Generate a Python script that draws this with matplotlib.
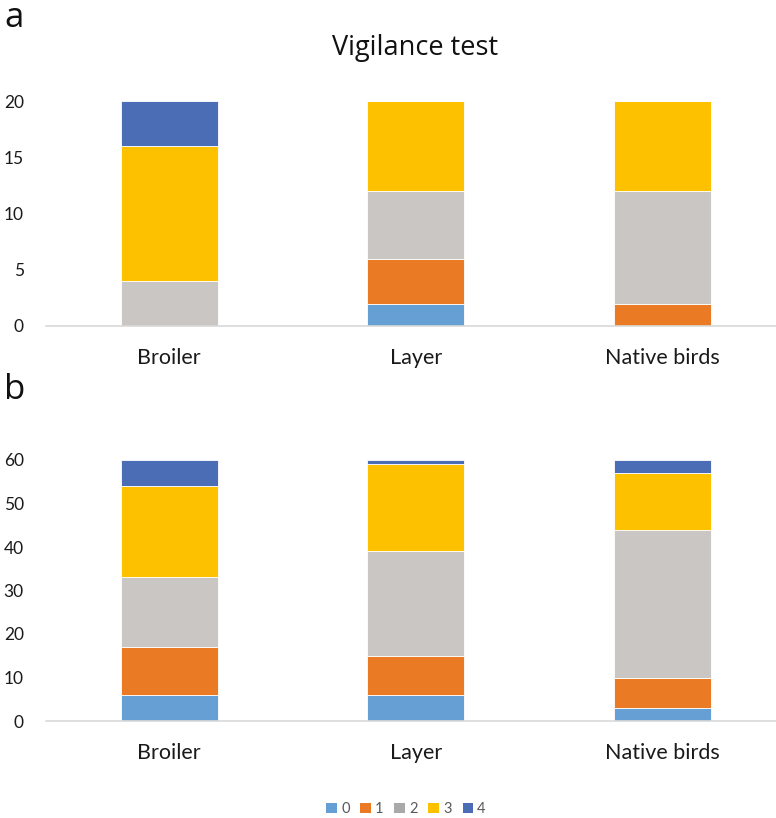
import matplotlib
matplotlib.use("Agg")
import matplotlib.pyplot as plt
from matplotlib.patches import Patch
import numpy as np

categories = ["Broiler", "Layer", "Native birds"]
series_names = ["0", "1", "2", "3", "4"]

# Panel a (Vigilance test) – counts per score
a_s0 = [0, 2, 0]
a_s1 = [0, 4, 2]
a_s2 = [4, 6, 10]
a_s3 = [12, 8, 8]
a_s4 = [4, 0, 0]

# Panel b
b_s0 = [6, 6, 3]
b_s1 = [11, 9, 7]
b_s2 = [16, 24, 34]
b_s3 = [21, 20, 13]
b_s4 = [6, 1, 3]

a_ticks = [0, 5, 10, 15, 20]
b_ticks = [0, 10, 20, 30, 40, 50, 60]

colors = ["#659FD4", "#EA7A23", "#C9C6C3", "#FEC100", "#4A6DB5"]
legend_colors = ["#659FD4", "#EA7A23", "#A9A9A9", "#FEC100", "#4A6DB5"]

W, H = 776, 818
fig = plt.figure(figsize=(W / 100, H / 100), dpi=100)

def px_axes(left, right, top, bottom):
    return fig.add_axes([left / W, 1 - bottom / H, (right - left) / W, (bottom - top) / H])

ax_a = px_axes(46, 776, 101, 326)
ax_b = px_axes(46, 776, 460, 721)

tick_font = "Lato"

def draw(ax, series, ticks):
    x = np.arange(len(categories))
    bottom = np.zeros(len(categories))
    for vals, c in zip(series, colors):
        vals = np.array(vals, dtype=float)
        ax.bar(x, vals, 0.395, bottom=bottom, color=c, edgecolor="white", linewidth=0.6)
        bottom += vals
    ax.set_xlim(-0.5, -0.5 + 730 / 246.5)
    ax.set_ylim(0, ticks[-1])
    ax.set_yticks(ticks)
    ax.set_xticks(x)
    ax.set_xticklabels(categories, fontsize=15.5, family=tick_font, color="#1a1a1a")
    for lab in ax.get_yticklabels():
        lab.set_fontsize(12.5)
        lab.set_family(tick_font)
        lab.set_color("#1a1a1a")
    ax.tick_params(axis="both", length=0)
    ax.tick_params(axis="x", pad=16)
    ax.tick_params(axis="y", pad=16)
    for s in ["top", "right", "left"]:
        ax.spines[s].set_visible(False)
    ax.spines["bottom"].set_color("#D9D9D9")
    ax.spines["bottom"].set_linewidth(1.2)

draw(ax_a, [a_s0, a_s1, a_s2, a_s3, a_s4], a_ticks)
draw(ax_b, [b_s0, b_s1, b_s2, b_s3, b_s4], b_ticks)

fig.text(415 / W, 1 - 48 / H, "Vigilance test", ha="center", va="center",
         fontsize=19.5, family="Open Sans", color="#111111")
fig.text(4 / W, 1 - 27 / H, "a", ha="left", va="baseline", fontsize=25,
         family="Open Sans", color="#111111")
fig.text(4 / W, 1 - 399 / H, "b", ha="left", va="baseline", fontsize=25,
         family="Open Sans", color="#111111")

handles = [Patch(facecolor=c, edgecolor="none") for c in legend_colors]
leg = fig.legend(handles, series_names, loc="center", bbox_to_anchor=(406 / W, 1 - 809 / H),
                 ncol=5, frameon=False, handlelength=0.7, handleheight=0.7,
                 handletextpad=0.3, columnspacing=0.75, labelcolor="#595959",
                 prop={"family": tick_font, "size": 10.5})

fig.savefig("out.png", dpi=100)
